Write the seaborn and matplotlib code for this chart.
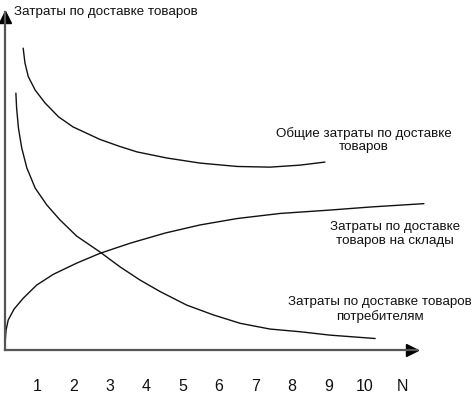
import pandas as pd
import matplotlib.pyplot as plt
import seaborn as sns

# curves (x in units of N, y in arbitrary cost units)
x_total = [0.62, 0.67, 0.76, 0.95, 1.22, 1.59, 1.99, 2.73, 3.28, 3.75, 4.57, 5.48,
           6.50, 7.40, 8.23, 8.91]
y_total = [8.93, 8.49, 8.09, 7.69, 7.31, 6.90, 6.60, 6.23, 6.02, 5.86, 5.68, 5.53,
           5.43, 5.41, 5.47, 5.56]

x_consumer = [0.42, 0.44, 0.49, 0.58, 0.72, 0.95, 1.27, 1.63, 2.09, 2.73, 3.28, 3.83,
              4.38, 5.11, 5.84, 6.58, 7.40, 8.23, 9.05, 10.29]
y_consumer = [7.60, 7.16, 6.57, 5.98, 5.39, 4.79, 4.29, 3.85, 3.37, 2.90, 2.46, 2.07,
              1.73, 1.33, 1.04, 0.79, 0.62, 0.54, 0.44, 0.34]

x_stock = [0.12, 0.13, 0.15, 0.21, 0.37, 0.62, 0.99, 1.45, 2.09, 2.73, 3.56, 4.52,
           5.48, 6.50, 7.68, 9.05, 10.15, 11.63]
y_stock = [0.03, 0.30, 0.59, 0.89, 1.21, 1.53, 1.92, 2.24, 2.57, 2.86, 3.16, 3.46,
           3.70, 3.89, 4.04, 4.14, 4.23, 4.33]

tick_pos = [1, 2, 3, 4, 5, 6, 7, 8, 9, 10, 11.05]
tick_labels = ['1', '2', '3', '4', '5', '6', '7', '8', '9', '10', 'N']

df = pd.concat([
    pd.DataFrame({'x': x_total, 'y': y_total, 'curve': 'total'}),
    pd.DataFrame({'x': x_consumer, 'y': y_consumer, 'curve': 'consumer'}),
    pd.DataFrame({'x': x_stock, 'y': y_stock, 'curve': 'stock'}),
])

sns.set_theme(style="white")
plt.rcParams['font.family'] = ['Liberation Sans', 'DejaVu Sans']

W, H = 474, 398
x0, x1 = 0.121, 11.9
y0, y1 = 0.0, 10.4
kx, ky = 36.4, 33.8  # pixels per unit
left_px, base_px = 5, 350

fig = plt.figure(figsize=(W / 100, H / 100), dpi=100)
ax = fig.add_axes([left_px / W, (H - base_px) / H,
                   (x1 - x0) * kx / W, (y1 - y0) * ky / H])

sns.lineplot(data=df, x='x', y='y', hue='curve', sort=False, estimator=None,
             palette=['#111111'] * 3, linewidth=1.0, legend=False, ax=ax)

ax.set_xlim(x0, x1)
ax.set_ylim(y0, y1)
for s in ['top', 'right']:
    ax.spines[s].set_visible(False)
ax.spines['bottom'].set_bounds(x0, 11.45)
ax.spines['left'].set_bounds(0, 10.0)
for s in ['bottom', 'left']:
    ax.spines[s].set_color('#555555')
    ax.spines[s].set_linewidth(1.6)

# arrow heads
ax.plot([11.3], [0], marker='>', ms=8, color='black', clip_on=False)
ax.plot([x0], [9.85], marker='^', ms=8, color='black', clip_on=False)

ax.set_xticks(tick_pos, tick_labels)
ax.set_yticks([])
ax.tick_params(axis='x', length=0, pad=21, labelsize=11.5, colors='#111111')
ax.set_xlabel('')
ax.set_ylabel('')

txt = dict(fontsize=9.6, color='#111111', ha='center', va='center', linespacing=1.2)
ax.text(0.37, 10.0, 'Затраты по доставке товаров', fontsize=9.6, color='#111111',
        ha='left', va='center')
ax.text(9.98, 6.21, 'Общие затраты по доставке\nтоваров', **txt)
ax.text(10.83, 3.43, 'Затраты по доставке\nтоваров на склады', **txt)
ax.text(10.43, 1.21, 'Затраты по доставке товаров\nпотребителям', **txt)

fig.savefig('out.png', dpi=100)
